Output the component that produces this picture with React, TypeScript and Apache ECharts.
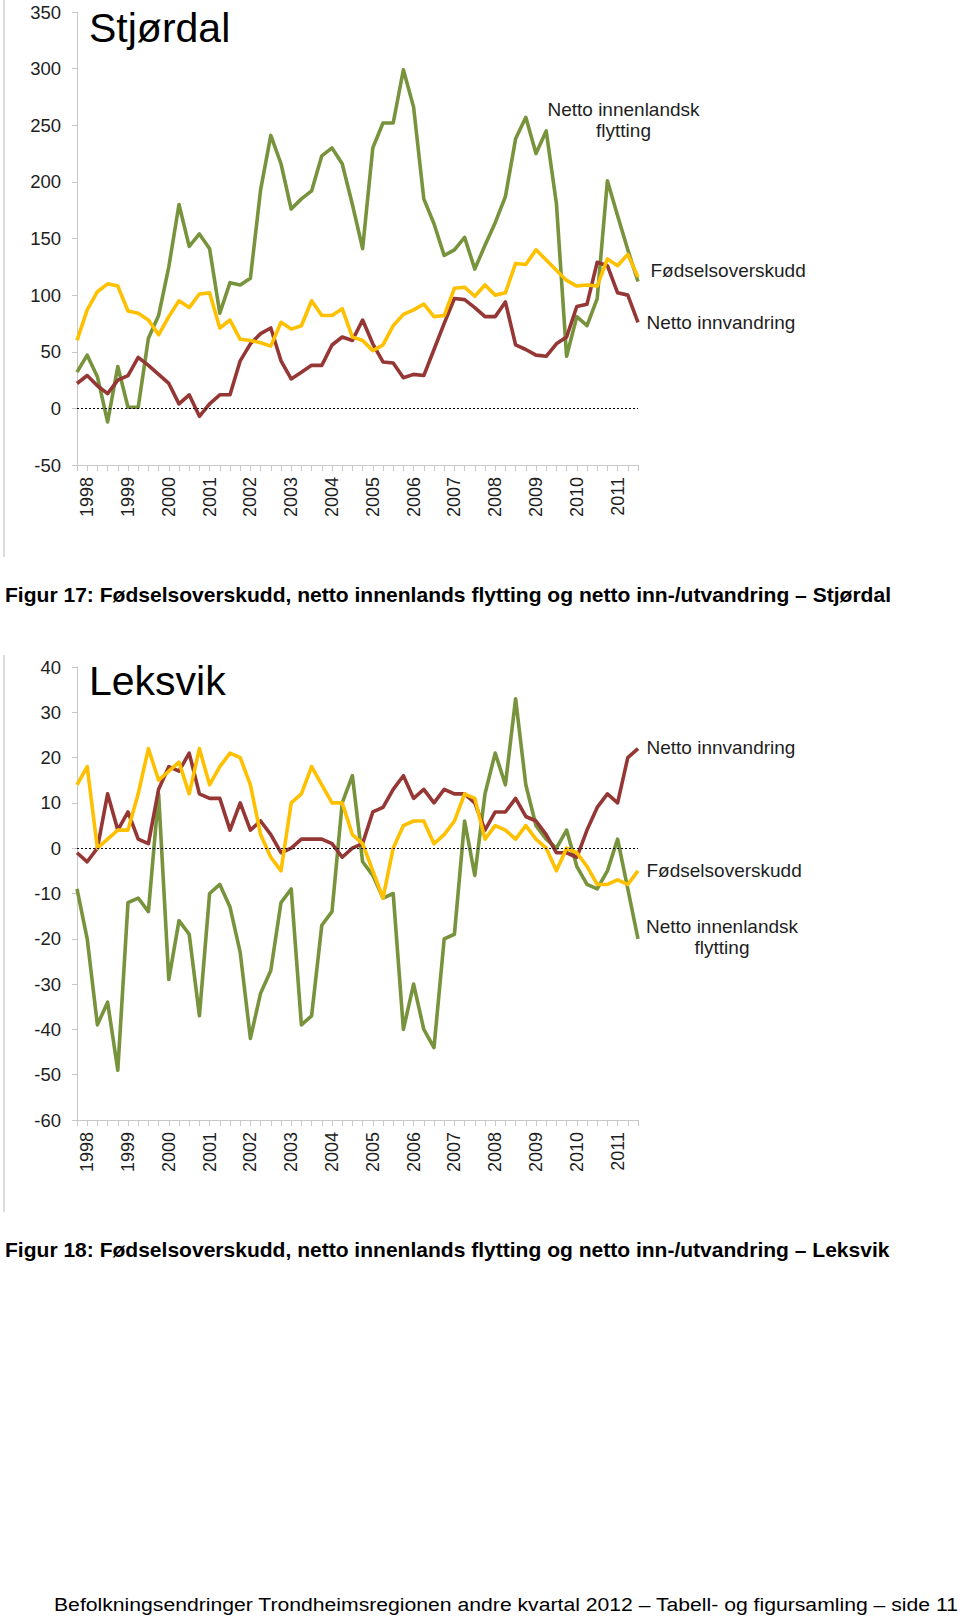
import React, { useEffect, useRef } from 'react';
import * as echarts from 'echarts';

const years = ['1998', '1999', '2000', '2001', '2002', '2003', '2004', '2005', '2006', '2007', '2008', '2009', '2010', '2011'];
const quarters = ['K1', 'K2', 'K3', 'K4'];
const categories = years.flatMap((y) => quarters.map((q) => `${y} ${q}`));

// Stjørdal
const stjInnenlands = [32, 47, 28, -12, 37, 1, 1, 62, 82, 125, 180, 143, 154, 141, 84, 111, 109, 115, 193, 241, 216, 176, 185, 192, 223, 230, 216, 180, 141, 230, 252, 252, 299, 266, 185, 163, 135, 140, 151, 123, 144, 164, 187, 238, 257, 225, 245, 181, 46, 81, 73, 97, 201, 170, 140, 112];
const stjFodsel = [60, 87, 103, 110, 108, 86, 84, 78, 65, 81, 95, 89, 101, 102, 71, 78, 61, 60, 58, 55, 76, 70, 73, 95, 82, 82, 88, 63, 60, 51, 56, 73, 83, 87, 92, 81, 82, 106, 107, 99, 109, 100, 102, 128, 127, 140, 131, 122, 113, 108, 109, 108, 132, 126, 136, 116];
const stjInnvandring = [22, 29, 20, 13, 25, 29, 45, 38, 30, 22, 4, 12, -7, 4, 12, 12, 42, 57, 66, 71, 42, 26, 32, 38, 38, 56, 63, 60, 78, 57, 41, 40, 27, 30, 29, 52, 75, 97, 96, 89, 81, 81, 94, 56, 52, 47, 46, 57, 63, 90, 92, 129, 126, 102, 100, 76];

// Leksvik
const lekInnenlands = [-9, -20, -39, -34, -49, -12, -11, -14, 12, -29, -16, -19, -37, -10, -8, -13, -23, -42, -32, -27, -12, -9, -39, -37, -17, -14, 10, 16, -3, -6, -11, -10, -40, -30, -40, -44, -20, -19, 6, -6, 12, 21, 14, 33, 14, 5, 2, 0, 4, -4, -8, -9, -5, 2, -9, -20];
const lekFodsel = [14, 18, 0, 2, 4, 4, 12, 22, 15, 17, 19, 12, 22, 14, 18, 21, 20, 14, 3, -2, -5, 10, 12, 18, 14, 10, 10, 3, 1, -5, -11, 0, 5, 6, 6, 1, 3, 6, 12, 11, 2, 5, 4, 2, 5, 2, 0, -5, 0, -1, -4, -8, -8, -7, -8, -5];
const lekInnvandring = [-1, -3, 0, 12, 4, 8, 2, 1, 13, 18, 17, 21, 12, 11, 11, 4, 10, 4, 6, 3, -1, 0, 2, 2, 2, 1, -2, 0, 1, 8, 9, 13, 16, 11, 13, 10, 13, 12, 12, 10, 4, 8, 8, 11, 7, 6, 3, -1, -1, -2, 4, 9, 12, 10, 20, 22];

const titles = ['Stjørdal', 'Leksvik'];
const labelInnenlands = ['Netto innenlandsk', 'flytting'];
const labelFodsel = 'Fødselsoverskudd';
const labelInnvandring = 'Netto innvandring';
const caption17 = 'Figur 17: Fødselsoverskudd, netto innenlands flytting og netto inn-/utvandring – Stjørdal';
const caption18 = 'Figur 18: Fødselsoverskudd, netto innenlands flytting og netto inn-/utvandring – Leksvik';
const footer = 'Befolkningsendringer Trondheimsregionen andre kvartal 2012 – Tabell- og figursamling – side 11';

const GREEN = '#77933C';
const RED = '#953735';
const YELLOW = '#FFC000';
const AXIS_GRAY = '#c8c8c8';
const TEXT = '#1e1e1e';
const FONT = "'Liberation Sans', Arial, sans-serif";

function fitScale(text: string, font: string, target: number): number {
  const ctx = document.createElement('canvas').getContext('2d');
  if (!ctx) return 1;
  ctx.font = font;
  const w = ctx.measureText(text).width;
  return w > 0 ? target / w : 1;
}

export default function App() {
  const ref = useRef<HTMLDivElement>(null);

  useEffect(() => {
    if (!ref.current) return;
    const chart = echarts.init(ref.current, null, { renderer: 'svg' });

    const xAxes = [0, 1].map((k) => ({
      type: 'category',
      gridIndex: k,
      data: categories,
      boundaryGap: false,
      axisLine: { show: true, onZero: false, lineStyle: { color: AXIS_GRAY, width: 1 } },
      axisTick: { show: true, interval: 0, length: 6, lineStyle: { color: AXIS_GRAY } },
      axisLabel: {
        interval: (i: number) => i % 4 === 1,
        rotate: 90,
        margin: 12,
        fontSize: 18,
        color: TEXT,
        fontFamily: FONT,
        formatter: (v: string) => v.slice(0, 4),
      },
      splitLine: { show: false },
    }));

    const yAxisCommon = {
      type: 'value',
      axisLine: { show: true, lineStyle: { color: AXIS_GRAY, width: 1 } },
      axisTick: { show: true, length: 5, lineStyle: { color: AXIS_GRAY } },
      axisLabel: { margin: 16, fontSize: 18.5, color: TEXT, fontFamily: FONT },
      splitLine: { show: false },
    };

    const zeroLine = {
      silent: true,
      symbol: ['none', 'none'],
      label: { show: false },
      lineStyle: { color: '#000', type: [2, 2], width: 1 },
      emphasis: { disabled: true },
      data: [{ yAxis: 0 }],
    };

    const mk = (name: string, data: number[], color: string, k: number, z: number, withZero = false) => ({
      name,
      type: 'line',
      xAxisIndex: k,
      yAxisIndex: k,
      data,
      symbol: 'none',
      silent: true,
      z,
      lineStyle: { width: 3.6, color, join: 'round' },
      itemStyle: { color },
      emphasis: { disabled: true },
      ...(withZero ? { markLine: zeroLine } : {}),
    });

    const capFont = `bold 20px ${FONT}`;
    const footFont = `19px ${FONT}`;
    const s17 = fitScale(caption17, capFont, 887);
    const s18 = fitScale(caption18, capFont, 885);
    const sFoot = fitScale(footer, footFont, 905);

    const annot = (text: string, x: number, y: number, align: string = 'left') => ({
      type: 'text',
      x,
      y,
      silent: true,
      style: { text, font: `19px ${FONT}`, fill: TEXT, textAlign: align, textVerticalAlign: 'middle', verticalAlign: 'middle' },
    });

    const option: any = {
      animation: false,
      backgroundColor: '#ffffff',
      grid: [
        { left: 77, top: 12, width: 561, height: 453 },
        { left: 77, top: 667, width: 561, height: 453 },
      ],
      xAxis: xAxes,
      yAxis: [
        { ...yAxisCommon, gridIndex: 0, min: -50, max: 350, interval: 50 },
        { ...yAxisCommon, gridIndex: 1, min: -60, max: 40, interval: 10 },
      ],
      series: [
        mk('Netto innenlandsk flytting', stjInnenlands, GREEN, 0, 2, true),
        mk('Netto innvandring', stjInnvandring, RED, 0, 3),
        mk('Fødselsoverskudd', stjFodsel, YELLOW, 0, 4),
        mk('Netto innenlandsk flytting', lekInnenlands, GREEN, 1, 2, true),
        mk('Netto innvandring', lekInnvandring, RED, 1, 3),
        mk('Fødselsoverskudd', lekFodsel, YELLOW, 1, 4),
      ],
      graphic: [
        { type: 'line', silent: true, shape: { x1: 4, y1: 0, x2: 4, y2: 557 }, style: { stroke: '#d0d0d0', lineWidth: 1.5 } },
        { type: 'line', silent: true, shape: { x1: 4, y1: 655, x2: 4, y2: 1212 }, style: { stroke: '#d0d0d0', lineWidth: 1.5 } },
        { type: 'text', x: 89, y: 27.8, silent: true, style: { text: titles[0], font: `41px ${FONT}`, fill: '#000', textVerticalAlign: 'middle', verticalAlign: 'middle' } },
        { type: 'text', x: 89, y: 680.8, silent: true, style: { text: titles[1], font: `41px ${FONT}`, fill: '#000', textVerticalAlign: 'middle', verticalAlign: 'middle' } },
        annot(labelInnenlands[0], 623.5, 109, 'center'),
        annot(labelInnenlands[1], 623.5, 130, 'center'),
        annot(labelFodsel, 650.5, 270.7),
        annot(labelInnvandring, 646.5, 322.7),
        annot(labelInnvandring, 646.5, 747.4),
        annot(labelFodsel, 646.5, 870),
        annot(labelInnenlands[0], 722, 926.4, 'center'),
        annot(labelInnenlands[1], 722, 947.4, 'center'),
        { type: 'text', x: 5, y: 595.1, scaleX: s17, silent: true, style: { text: caption17, font: capFont, fill: '#000', textVerticalAlign: 'middle', verticalAlign: 'middle' } },
        { type: 'text', x: 5, y: 1250.1, scaleX: s18, silent: true, style: { text: caption18, font: capFont, fill: '#000', textVerticalAlign: 'middle', verticalAlign: 'middle' } },
        { type: 'text', x: 54, y: 1604, scaleX: sFoot, silent: true, style: { text: footer, font: footFont, fill: '#000', textVerticalAlign: 'middle', verticalAlign: 'middle' } },
      ],
    };

    chart.setOption(option);
    return () => chart.dispose();
  }, []);

  return (
    <div
      ref={ref}
      style={{ position: 'absolute', left: 0, top: 0, width: 960, height: 1616, background: '#fff' }}
    />
  );
}
